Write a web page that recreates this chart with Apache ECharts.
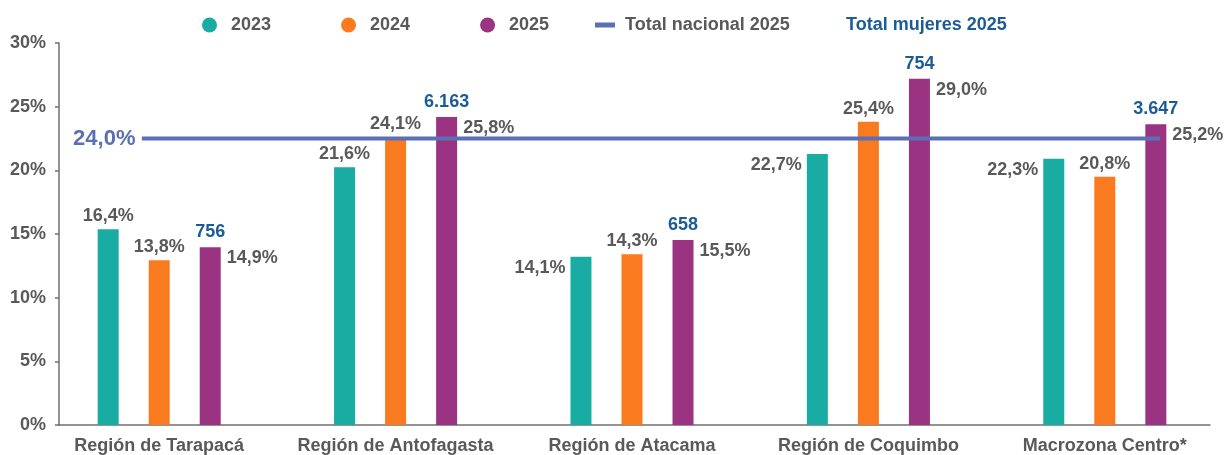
<!DOCTYPE html>
<html>
<head>
<meta charset="utf-8">
<script src="https://cdn.jsdelivr.net/npm/echarts@6/dist/echarts.min.js"></script>
<style>
  html, body { margin: 0; padding: 0; background: #ffffff; }
  #chart { width: 1226px; height: 455px; }
</style>
</head>
<body>
<div id="chart"></div>
<script>
// ---- data ----
const regions = ['Región de Tarapacá', 'Región de Antofagasta', 'Región de Atacama', 'Región de Coquimbo', 'Macrozona Centro*'];
const pct2023 = [16.4, 21.6, 14.1, 22.7, 22.3];
const pct2024 = [13.8, 24.1, 14.3, 25.4, 20.8];
const pct2025 = [14.9, 25.8, 15.5, 29.0, 25.2];
const women2025 = [756, 6163, 658, 754, 3647];
const nationalTotal2025 = 24.0;
const yTickLabels = ['0%', '5%', '10%', '15%', '20%', '25%', '30%'];

// ---- styling ----
const FONT = "'Liberation Sans', Arial, sans-serif";
const FS = 18;
const GRAY = '#595959';
const AXIS_GRAY = '#707070';
const BLUE_NUM = '#1b5c96';
const LINE_BLUE = '#5b6fb5';
const COLORS = { y2023: '#19aca3', y2024: '#fa7a1f', y2025: '#9b3383' };

// The axis in the source is drawn on a 0-32 scale with ticks labelled 0%..30%
const AXIS_MAX = 32;
const AXIS_INTERVAL = AXIS_MAX / (yTickLabels.length - 1);

const fmtPct = v => v.toFixed(1).replace('.', ',') + '%';
const fmtInt = v => String(v).replace(/\B(?=(\d{3})+(?!\d))/g, '.');

const baseLabel = { color: GRAY, fontFamily: FONT, fontWeight: 'bold', fontSize: FS };

const chart = echarts.init(document.getElementById('chart'), null, { renderer: 'canvas' });

const tealData = pct2023.map((v, i) => {
  if (i >= 2) {
    return { value: v, label: { show: true, position: [0, 0], offset: [-5, 11], align: 'right', verticalAlign: 'middle' } };
  }
  return { value: v };
});

const option = {
  animation: false,
  backgroundColor: '#ffffff',
  textStyle: { fontFamily: FONT },
  grid: [
    { left: 41, right: 3, top: 43, bottom: 30 },   // bars
    { left: 142, right: 66, top: 43, bottom: 30 }, // national total line
    { left: 59, right: 16, top: 43, bottom: 30 }   // visible axes frame
  ],
  legend: [
    {
      data: [
        { name: '2023', icon: 'circle' },
        { name: '2024', icon: 'circle' },
        { name: '2025', icon: 'circle' }
      ],
      left: 202, top: 16, padding: 0,
      itemWidth: 15, itemHeight: 15, itemGap: 70,
      textStyle: { color: GRAY, fontFamily: FONT, fontWeight: 'bold', fontSize: FS, padding: [0, 0, 0, 9] }
    },
    {
      data: [{ name: 'Total nacional 2025', icon: 'rect' }],
      left: 595, top: 16, padding: 0,
      itemWidth: 20, itemHeight: 5,
      textStyle: { color: GRAY, fontFamily: FONT, fontWeight: 'bold', fontSize: FS, padding: [0, 0, 0, 5] }
    },
    {
      data: [{ name: 'Total mujeres 2025', icon: 'none' }],
      left: 840, top: 16, padding: 0,
      itemWidth: 1, itemHeight: 5,
      textStyle: { color: BLUE_NUM, fontFamily: FONT, fontWeight: 'bold', fontSize: FS }
    }
  ],
  xAxis: [
    {
      type: 'category', gridIndex: 0, data: regions,
      axisLine: { show: false },
      axisTick: { show: false },
      axisLabel: { color: GRAY, fontFamily: FONT, fontWeight: 'bold', fontSize: FS, margin: 12, interval: 0 }
    },
    {
      type: 'category', gridIndex: 1, show: false, boundaryGap: false,
      data: [regions[0], regions[regions.length - 1]]
    },
    {
      type: 'value', gridIndex: 2, min: 0, max: 1,
      axisLine: { show: true, lineStyle: { color: AXIS_GRAY, width: 1.5 } },
      axisTick: { show: false }, axisLabel: { show: false }, splitLine: { show: false }
    }
  ],
  yAxis: [
    { type: 'value', gridIndex: 0, min: 0, max: AXIS_MAX, show: false },
    { type: 'value', gridIndex: 1, min: 0, max: AXIS_MAX, show: false },
    {
      type: 'value', gridIndex: 2, min: 0, max: AXIS_MAX, interval: AXIS_INTERVAL,
      axisLine: { show: true, lineStyle: { color: AXIS_GRAY, width: 1.5 } },
      axisTick: { show: true, length: 4, lineStyle: { color: AXIS_GRAY, width: 1.5 } },
      splitLine: { show: false },
      axisLabel: {
        color: GRAY, fontFamily: FONT, fontWeight: 'bold', fontSize: FS, margin: 13,
        formatter: v => yTickLabels[Math.round(v / AXIS_INTERVAL)]
      }
    }
  ],
  series: [
    {
      name: '2023', type: 'bar', xAxisIndex: 0, yAxisIndex: 0,
      barWidth: 21, barGap: '143%',
      itemStyle: { color: COLORS.y2023 },
      label: Object.assign({ show: true, position: 'top', distance: 4, formatter: p => fmtPct(p.value) }, baseLabel),
      data: tealData
    },
    {
      name: '2024', type: 'bar', xAxisIndex: 0, yAxisIndex: 0,
      barWidth: 21, barGap: '143%',
      itemStyle: { color: COLORS.y2024 },
      label: Object.assign({ show: true, position: 'top', distance: 4, formatter: p => fmtPct(p.value) }, baseLabel),
      data: pct2024
    },
    {
      name: '2025', type: 'bar', xAxisIndex: 0, yAxisIndex: 0,
      barWidth: 21, barGap: '143%',
      itemStyle: { color: COLORS.y2025 },
      label: Object.assign({
        show: true, position: ['100%', 0], offset: [6, 11], align: 'left', verticalAlign: 'middle',
        formatter: p => fmtPct(p.value)
      }, baseLabel),
      markPoint: {
        symbol: 'circle', symbolSize: 0,
        label: {
          show: true, position: 'top', distance: 6,
          color: BLUE_NUM, fontFamily: FONT, fontWeight: 'bold', fontSize: FS,
          formatter: p => fmtInt(p.data.count)
        },
        data: pct2025.map((v, i) => ({ coord: [i, v], count: women2025[i] }))
      },
      data: pct2025
    },
    {
      name: 'Total nacional 2025', type: 'line', xAxisIndex: 1, yAxisIndex: 1,
      symbol: 'circle', symbolSize: 1, showSymbol: true,
      lineStyle: { color: LINE_BLUE, width: 4 },
      itemStyle: { color: LINE_BLUE },
      z: 5,
      data: [
        { value: nationalTotal2025, label: { show: true, position: 'left', distance: 6, color: LINE_BLUE, fontFamily: FONT, fontWeight: 'bold', fontSize: 22, formatter: p => fmtPct(p.value) } },
        nationalTotal2025
      ]
    },
    {
      name: 'Total mujeres 2025', type: 'line', xAxisIndex: 0, yAxisIndex: 0,
      itemStyle: { color: BLUE_NUM },
      data: []
    }
  ]
};

chart.setOption(option);
</script>
</body>
</html>
